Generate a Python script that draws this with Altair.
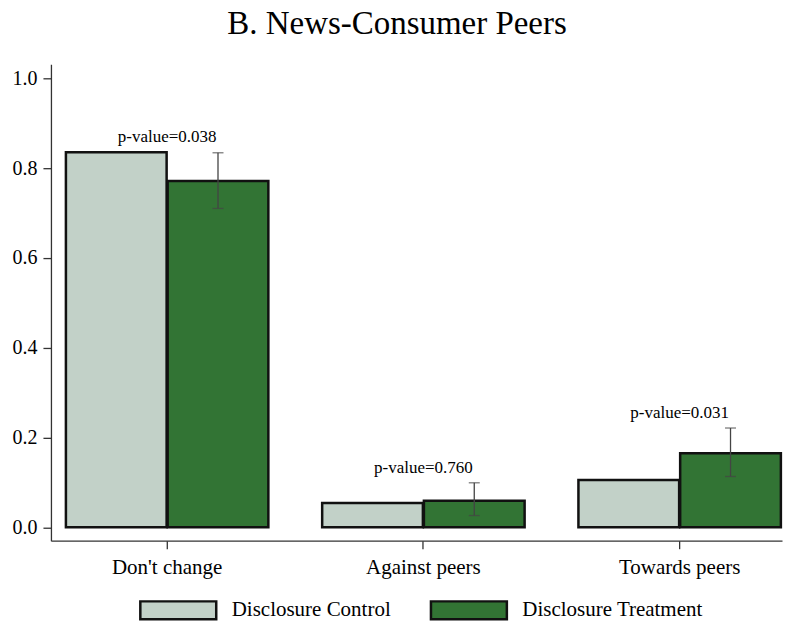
import altair as alt
import pandas as pd

categories = ["Don't change", "Against peers", "Towards peers"]
groups = ["Disclosure Control", "Disclosure Treatment"]
control_values = [0.835, 0.054, 0.105]
treatment_values = [0.771, 0.059, 0.165]
ci_low = [0.710, 0.026, 0.113]
ci_high = [0.834, 0.099, 0.221]
p_values = ["p-value=0.038", "p-value=0.760", "p-value=0.031"]
y_ticks = [0.0, 0.2, 0.4, 0.6, 0.8, 1.0]
fill_colors = ["#c2d1c8", "#327434"]

FONT = "Liberation Serif"

bars_df = pd.DataFrame({
    "category": categories * 2,
    "group": [groups[0]] * 3 + [groups[1]] * 3,
    "value": control_values + treatment_values,
})
err_df = pd.DataFrame({
    "category": categories,
    "group": [groups[1]] * 3,
    "low": ci_low,
    "high": ci_high,
})
lab_df = pd.DataFrame({
    "category": categories,
    "text": p_values,
    "top": [max(a, b, c) for a, b, c in zip(control_values, treatment_values, ci_high)],
})

x_enc = alt.X(
    "category:N",
    sort=categories,
    scale=alt.Scale(paddingInner=0.21, paddingOuter=0.0314, align=0.93),
    axis=alt.Axis(title=None, labelAngle=0, labelFontSize=21, tickSize=8, labelPadding=8),
)
xoff_enc = alt.XOffset("group:N", sort=groups, scale=alt.Scale(domain=groups, paddingInner=0.01))
y_scale = alt.Scale(domain=[-0.03, 1.031], nice=False, zero=False)
y_axis = alt.Axis(title=None, values=y_ticks, format=".1f", labelFontSize=20,
                  tickSize=8, labelPadding=6, grid=False)

bars = alt.Chart(bars_df).mark_bar(stroke="#111", strokeWidth=2.5, opacity=1).encode(
    x=x_enc,
    xOffset=xoff_enc,
    y=alt.Y("value:Q", scale=y_scale, axis=y_axis),
    y2=alt.datum(0),
    color=alt.Color(
        "group:N",
        scale=alt.Scale(domain=groups, range=fill_colors),
        legend=alt.Legend(
            title=None, orient="none", legendX=107, legendY=526, direction="horizontal",
            symbolType="M-2,-0.474H2V0.474H-2Z", symbolSize=1444,
            symbolStrokeColor="#111", symbolStrokeWidth=2.5, symbolOpacity=1,
            labelFont=FONT, labelFontSize=21, labelColor="black",
            labelOffset=33, columnPadding=34, labelLimit=400,
        ),
    ),
)

rules = alt.Chart(err_df).mark_rule(color="#444", strokeWidth=1.3).encode(
    x=x_enc, xOffset=xoff_enc,
    y=alt.Y("low:Q", scale=y_scale, axis=y_axis), y2="high:Q",
)
cap_low = alt.Chart(err_df).mark_tick(color="#444", size=11, thickness=1.3).encode(
    x=x_enc, xOffset=xoff_enc, y=alt.Y("low:Q", scale=y_scale, axis=y_axis),
)
cap_high = alt.Chart(err_df).mark_tick(color="#444", size=11, thickness=1.3).encode(
    x=x_enc, xOffset=xoff_enc, y=alt.Y("high:Q", scale=y_scale, axis=y_axis),
)
texts = alt.Chart(lab_df).mark_text(
    font=FONT, fontSize=17, color="black", baseline="alphabetic", dy=-10
).encode(
    x=x_enc, y=alt.Y("top:Q", scale=y_scale, axis=y_axis), text="text:N",
)

chart = alt.layer(bars, rules, cap_low, cap_high, texts).properties(
    width=732,
    height=477,
    title=alt.TitleParams(
        "B. News-Consumer Peers", fontSize=33, anchor="middle", frame="bounds",
        baseline="alphabetic", offset=-3,
    ),
    padding={"left": 4, "top": 0, "right": 0, "bottom": 0},
    background="white",
).configure_view(stroke=None).configure_axis(
    labelFont=FONT, labelColor="black", domainColor="#333", tickColor="#333",
    domainWidth=1.3, tickWidth=1.3,
).configure_title(
    font=FONT, fontWeight="normal", color="black",
).configure_legend(
    labelFont=FONT,
)

chart.save("out.html", embed_options={"renderer": "svg", "actions": False})
